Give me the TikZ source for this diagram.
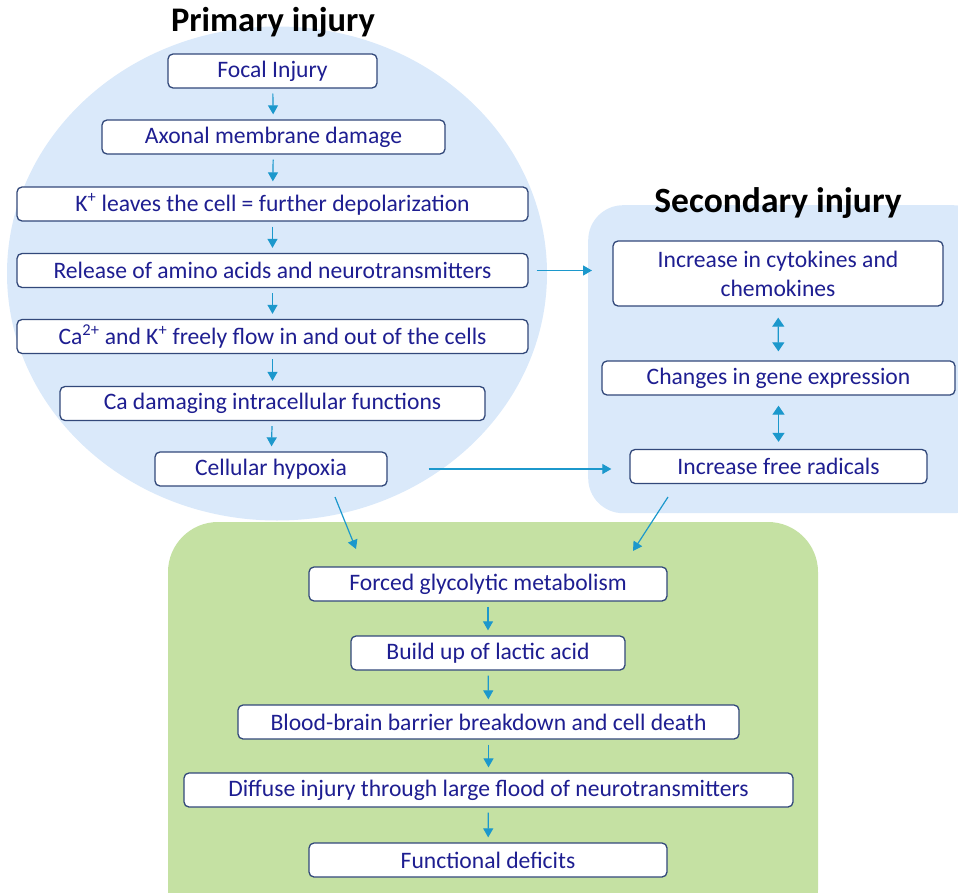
\documentclass[tikz,border=0pt]{standalone}
\usepackage{fontspec}
\setmainfont{Carlito}
\usetikzlibrary{arrows.meta}
\definecolor{txtc}{RGB}{30,30,145}
\definecolor{linec}{RGB}{50,72,122}
\definecolor{arrc}{RGB}{28,152,204}
\definecolor{bluebg}{RGB}{218,233,250}
\definecolor{greenbg}{RGB}{197,225,163}
\tikzset{
  box/.style={draw=linec, line width=1.3pt, fill=white, rounded corners=5pt,
    minimum height=34pt, inner sep=0pt, text=txtc, align=center,
    font=\fontsize{23.6}{29}\selectfont},
  arr/.style={draw=arrc, line width=1.2pt, -{Triangle[length=9pt,width=10pt]}},
  darr/.style={draw=arrc, line width=1.2pt, {Triangle[length=9pt,width=12pt]}-{Triangle[length=9pt,width=12pt]}},
  title/.style={font=\fontsize{34.5}{38}\selectfont\bfseries, text=black, inner sep=0pt}
}
\begin{document}
\begin{tikzpicture}[x=1pt,y=-1pt]
\useasboundingbox (0,0) rectangle (958,893);
\begin{scope}
\clip (0,0) rectangle (958,893);
% backgrounds
\fill[bluebg] (277,273.5) ellipse [x radius=270, y radius=247];
\node[fill=bluebg, rounded corners=35pt, minimum width=400pt, minimum height=308pt, inner sep=0pt, anchor=north west] (sec) at (588,205) {};
\fill[greenbg, rounded corners=50pt] (168,522) rectangle (818,940);
\end{scope}
% titles
\node[title] (t1) at (273,22) {Primary injury};
\node[title, font=\fontsize{35.5}{38}\selectfont\bfseries] (t2) at (778,203) {Secondary injury};
% primary chain
\node[box, minimum width=209pt] (f1) at (272.5,71) {Focal Injury};
\node[box, minimum width=343pt] (f2) at (273.5,137) {Axonal membrane damage};
\node[box, minimum width=511pt] (f3) at (272.5,204) {K\textsuperscript{+} leaves the cell = further depolarization};
\node[box, minimum width=511pt] (f4) at (272.5,270.5) {Release of amino acids and neurotransmitters};
\node[box, minimum width=511pt] (f5) at (272.5,336.5) {Ca\textsuperscript{2+} and K\textsuperscript{+} freely flow in and out of the cells};
\node[box, minimum width=425pt] (f6) at (272.5,403.5) {Ca damaging intracellular functions};
\node[box, minimum width=232pt] (f7) at (271,469) {Cellular hypoxia};
\foreach \a/\b in {f1/f2,f2/f3,f3/f4,f4/f5,f5/f6,f6/f7}
  \draw[arr, shorten <=5pt, shorten >=5pt] (\a) -- (\b);
% secondary chain
\node[box, minimum width=330pt, minimum height=65pt] (s1) at (778,273.5) {Increase in cytokines and\\chemokines};
\node[box, minimum width=353pt] (s2) at (778.5,378) {Changes in gene expression};
\node[box, minimum width=297pt] (s3) at (778.5,466.5) {Increase free radicals};
\draw[darr, shorten <=11pt, shorten >=9pt] (s1) -- (s2);
\draw[darr, shorten <=10pt, shorten >=7pt] (s2) -- (s3);
% cross arrows
\draw[arr, shorten <=8pt, shorten >=-4pt] (f4.east) -- (f4.east -| sec.west);
\draw[arr, shorten <=41pt, shorten >=18pt] (f7.east) -- (f7.east -| s3.west);
% green chain
\node[box, minimum width=358pt] (g1) at (488,584) {Forced glycolytic metabolism};
\node[box, minimum width=274pt] (g2) at (488,653) {Build up of lactic acid};
\node[box, minimum width=501pt] (g3) at (488.5,722) {Blood-brain barrier breakdown and cell death};
\node[box, minimum width=609pt] (g4) at (488.5,790) {Diffuse injury through large flood of neurotransmitters};
\node[box, minimum width=358pt] (g5) at (488,860) {Functional deficits};
\foreach \a/\b in {g1/g2,g2/g3,g3/g4,g4/g5}
  \draw[arr, shorten <=5pt, shorten >=5pt] (\a) -- (\b);
% diagonal arrows into green region
\coordinate (d1s) at (335,497);
\coordinate (d1e) at (356,549);
\coordinate (d2s) at (668,497);
\coordinate (d2e) at (633,551);
\draw[arr] (d1s) -- (d1e);
\draw[arr] (d2s) -- (d2e);
\end{tikzpicture}
\end{document}
